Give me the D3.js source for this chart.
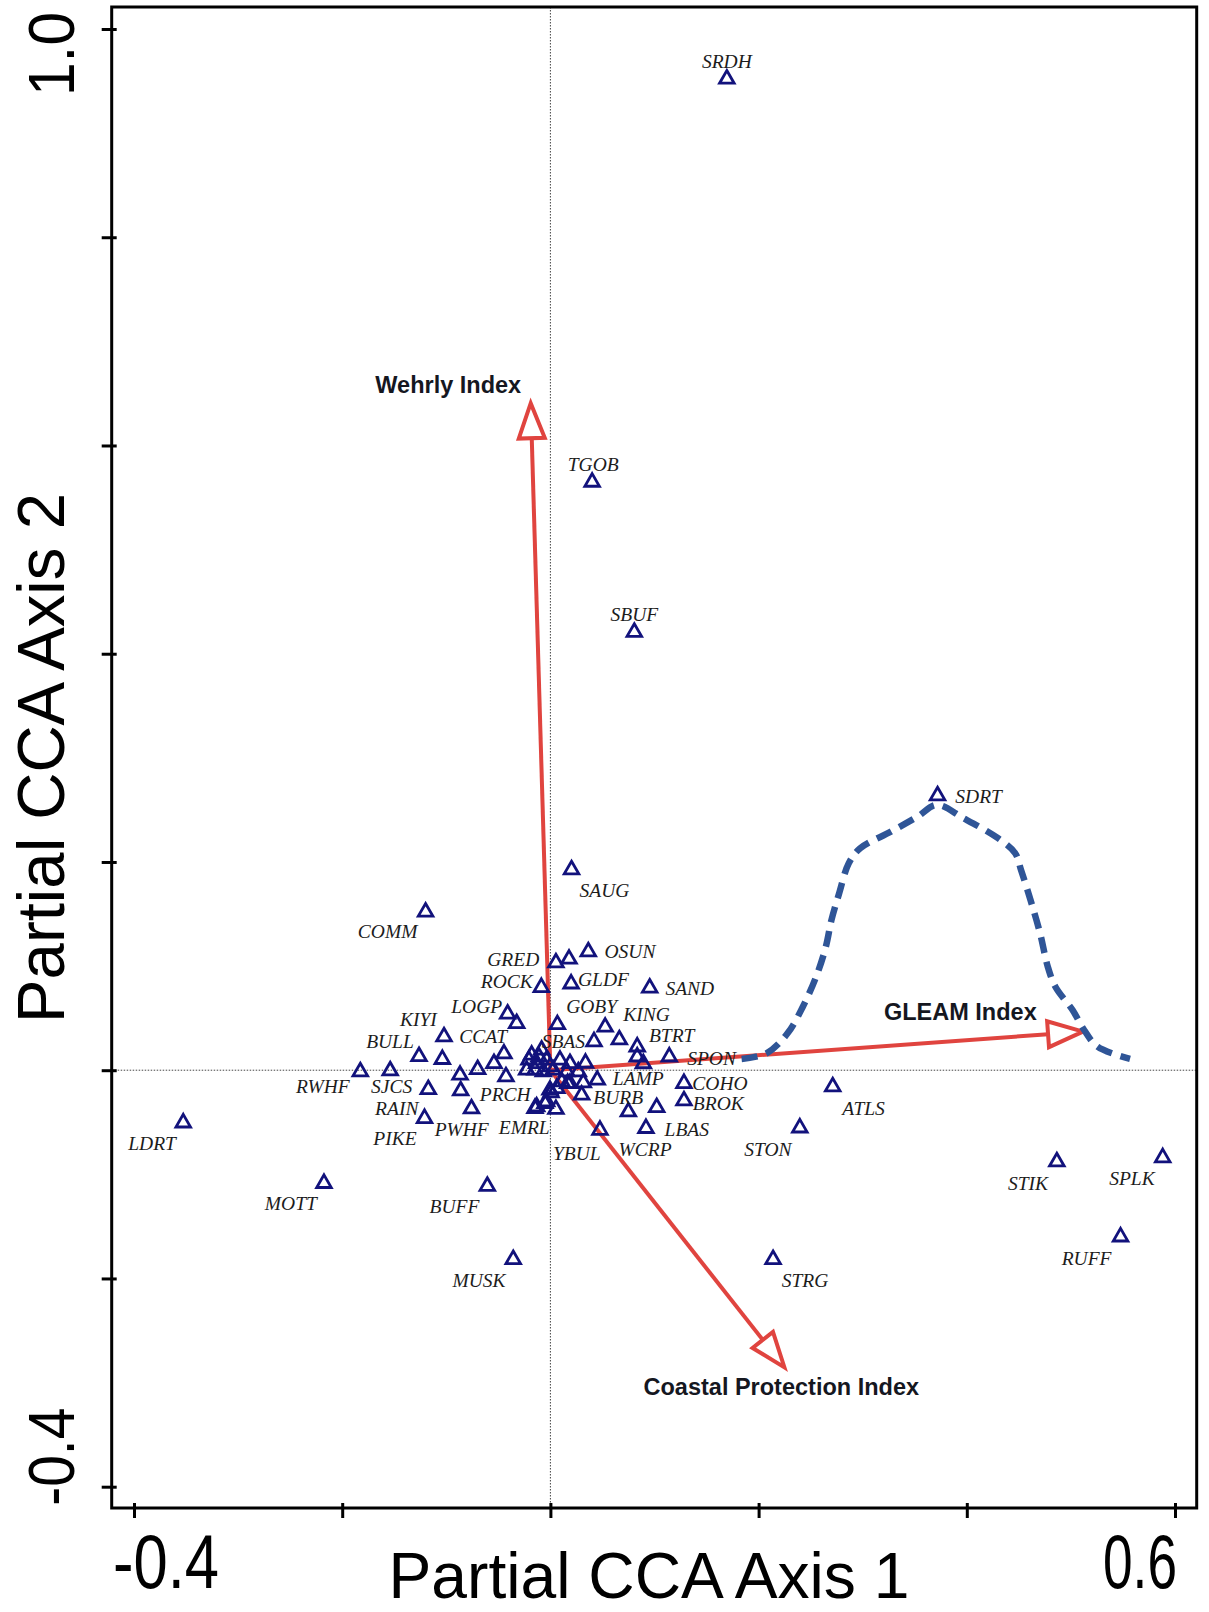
<!DOCTYPE html>
<html>
<head>
<meta charset="utf-8">
<script src="https://cdn.jsdelivr.net/npm/d3@7"></script>
<style>
  body { margin: 0; background: #fff; }
  svg { display: block; }
</style>
</head>
<body>
<div id="chart"></div>
<script>
// species scores on the two partial CCA axes, plus where each name sits
const species = ["SRDH","TGOB","SBUF","SDRT","SAUG","COMM","GRED","OSUN","ROCK","GLDF","SAND",
  "LOGP","KIYI","CCAT","BULL","GOBY","KING","SBAS","BTRT","SPON","RWHF","SJCS","RAIN","PIKE",
  "PWHF","PRCH","EMRL","LAMP","COHO","BROK","BURB","LBAS","YBUL","WCRP","ATLS","STON","STRG",
  "STIK","SPLK","RUFF","LDRT","MOTT","BUFF","MUSK"];
const axis1 = [0.1695,0.0401,0.0806,0.3719,0.0203,-0.1199,0.0053,0.0364,-0.0087,0.0199,0.0954,
  -0.0411,-0.1022,-0.0446,-0.1262,0.0526,0.0662,0.0067,0.0834,0.1142,-0.1826,-0.1539,-0.1173,-0.1209,
  -0.0758,-0.0427,-0.0132,0.045,0.1283,0.1283,0.03,0.0918,0.0476,0.0749,0.2712,0.2396,0.2139,
  0.4865,0.5882,0.5477,-0.3527,-0.2175,-0.0606,-0.0357];
const axis2 = [0.952,0.5649,0.4207,0.2637,0.1926,0.1521,0.1033,0.1139,0.0796,0.083,0.079,
  0.054,0.0322,0.0158,0.0133,0.0415,0.0293,0.0439,0.0225,0.0129,-0.0014,-0.0005,-0.0184,-0.0462,
  -0.037,-0.0062,-0.0351,-0.0094,-0.0126,-0.0292,-0.0238,-0.0558,-0.0575,-0.0399,-0.0158,-0.0553,-0.1817,
  -0.0879,-0.0839,-0.16,-0.0505,-0.1086,-0.1113,-0.1817];
const labelAxis1 = [0.1695,0.0411,0.0806,0.4114,0.0519,-0.1564,-0.0357,0.0764,-0.0419,0.051,0.1339,
  -0.0708,-0.1268,-0.0646,-0.1541,0.0396,0.0924,0.0124,0.1165,0.1548,-0.2186,-0.1525,-0.1476,-0.1493,
  -0.0852,-0.0434,-0.0251,0.0844,0.1629,0.1613,0.0652,0.131,0.0253,0.0909,0.3008,0.209,0.2445,
  0.4588,0.5586,0.5151,-0.3826,-0.2493,-0.0922,-0.0685];
const labelAxis2 = [0.9688,0.5817,0.4375,0.2627,0.1728,0.1333,0.1067,0.1136,0.0849,0.0869,0.078,
  0.0612,0.0484,0.0326,0.0277,0.0612,0.0533,0.0277,0.0329,0.0115,-0.0158,-0.0158,-0.0365,-0.0654,
  -0.0573,-0.0237,-0.0553,-0.0084,-0.0126,-0.0325,-0.0265,-0.0568,-0.0798,-0.0766,-0.0365,-0.076,-0.2025,
  -0.1086,-0.1037,-0.1807,-0.0701,-0.1284,-0.1313,-0.2025];

// species too crowded near the origin to carry a name
const otherAxis1 = [0.0179,-0.0324,0.0419,0.0834,0.0893,-0.1038,-0.0542,-0.0699,-0.0868,-0.0862,
  0.0337,0.1021,0.0166,0.0316,0.0006,-0.0148,0.0053,-0.0036,
  -0.018,-0.0084,-0.0132,-0.0036,-0.0004,0.0092,-0.0228,-0.0148,-0.0068,0.0028,
  0.0188,0.0157,0.0268,0.0109,0.0188,0.0061,-0.0004,-0.0052,-0.0206,-0.011];
const otherAxis2 = [0.1068,0.045,0.0275,0.0129,0.0064,0.0105,0.0066,0.0008,-0.0046,-0.0197,
  0.0069,-0.0357,-0.0126,-0.0119,-0.0216,-0.0366,-0.0375,-0.0302,
  0.0146,0.0194,0.0066,0.0098,0.0034,0.0098,0.0002,0.0002,-0.0014,0.0002,
  0.0066,-0.0014,-0.0014,-0.011,-0.0126,-0.0174,-0.019,-0.0318,0.0098,0.0127];

// environmental vectors
const envNames = ["Wehrly Index", "GLEAM Index", "Coastal Protection Index"];
const envAxis1 = [-0.0189, 0.5116, 0.2248];
const envAxis2 = [0.6406, 0.037, -0.2854];
const envLabelAxis1 = [-0.0981, 0.3938, 0.2218];
const envLabelAxis2 = [0.6582, 0.0559, -0.3034];

// dashed outline drawn over the GLEAM end
const outlineAxis1 = [0.1837,0.2076,0.2278,0.2425,0.2553,0.2646,0.27,0.2774,0.2866,0.2976,0.3271,
  0.3527,0.3712,0.3969,0.43,0.4465,0.4521,0.4612,0.4704,0.4778,0.4851,0.5016,0.5127,0.5256,0.5568];
const outlineAxis2 = [0.0108,0.0162,0.0354,0.061,0.0898,0.1186,0.1443,0.1699,0.1988,0.2132,0.2291,
  0.2435,0.2548,0.242,0.2228,0.2084,0.1923,0.1635,0.1315,0.0994,0.0802,0.0578,0.0386,0.0226,0.0108];

const xTicks = [-0.4, -0.2, 0, 0.2, 0.4, 0.6];
const yTicks = [-0.4, -0.2, 0, 0.2, 0.4, 0.6, 0.8, 1.0];
// only the end ticks carry a label
const xTickLabels = ["-0.4", "0.6"];
const yTickLabels = ["1.0", "-0.4"];

const width = 1209, height = 1612;
const box = {left: 111.7, right: 1196.7, top: 7, bottom: 1508};

const x = d3.scaleLinear().domain([-0.4, 0.6]).range([134, 1175]);
const y = d3.scaleLinear().domain([-0.4, 1.0]).range([1486.7, 29]);

const svg = d3.select("#chart")
  .append("svg")
    .attr("width", width)
    .attr("height", height);

const sans = "'Liberation Sans', Arial, sans-serif";
const serif = "'Liberation Serif', 'Times New Roman', serif";
const red = "#e0443f";
const navy = "#12127c";

// dotted zero lines
svg.append("line")
  .attr("x1", x(0)).attr("x2", x(0))
  .attr("y1", box.top).attr("y2", box.bottom)
  .attr("stroke", "#444").attr("stroke-width", 1)
  .attr("stroke-dasharray", "1.5,1.5");
svg.append("line")
  .attr("x1", box.left).attr("x2", box.right)
  .attr("y1", y(0)).attr("y2", y(0))
  .attr("stroke", "#444").attr("stroke-width", 1)
  .attr("stroke-dasharray", "1.5,1.5");

// frame
svg.append("rect")
  .attr("x", box.left).attr("y", box.top)
  .attr("width", box.right - box.left)
  .attr("height", box.bottom - box.top)
  .attr("fill", "none")
  .attr("stroke", "#000")
  .attr("stroke-width", 3);

// ticks, crossing the frame a little
svg.append("g")
  .attr("transform", `translate(0,${box.bottom})`)
  .call(d3.axisBottom(x).tickValues(xTicks).tickSize(10).tickFormat(""))
  .call(g => g.select(".domain").remove())
  .call(g => g.selectAll(".tick line").attr("y1", -5).attr("stroke-width", 3));

svg.append("g")
  .attr("transform", `translate(${box.left},0)`)
  .call(d3.axisLeft(y).tickValues(yTicks).tickSize(10).tickFormat(""))
  .call(g => g.select(".domain").remove())
  .call(g => g.selectAll(".tick line").attr("x1", 5).attr("stroke-width", 3));

// tick labels
svg.selectAll(".xlab")
  .data(xTickLabels)
  .join("text")
    .attr("class", "xlab")
    .attr("x", (d, i) => i === 0 ? x(+d) - 21 : x(+d) + 2)
    .attr("y", 1588)
    .attr("text-anchor", (d, i) => i === 0 ? "start" : "end")
    .attr("font-family", sans)
    .attr("font-size", 76)
    .attr("textLength", (d, i) => i === 0 ? 106 : 74)
    .attr("lengthAdjust", "spacingAndGlyphs")
    .text(d => d);

svg.selectAll(".ylab")
  .data(yTickLabels)
  .join("text")
    .attr("class", "ylab")
    .attr("transform", (d, i) => `translate(74,${i === 0 ? y(+d) - 17 : y(+d) + 19}) rotate(-90)`)
    .attr("text-anchor", (d, i) => i === 0 ? "end" : "start")
    .attr("font-family", sans)
    .attr("font-size", 64)
    .attr("textLength", (d, i) => i === 0 ? 84 : 98)
    .attr("lengthAdjust", "spacingAndGlyphs")
    .text(d => d);

// axis titles
svg.append("text")
  .attr("x", 649).attr("y", 1598)
  .attr("text-anchor", "middle")
  .attr("font-family", sans)
  .attr("font-size", 64)
  .attr("textLength", 521)
  .attr("lengthAdjust", "spacingAndGlyphs")
  .text("Partial CCA Axis 1");

svg.append("text")
  .attr("transform", "translate(64,758) rotate(-90)")
  .attr("text-anchor", "middle")
  .attr("font-family", sans)
  .attr("font-size", 66)
  .attr("textLength", 530)
  .attr("lengthAdjust", "spacingAndGlyphs")
  .text("Partial CCA Axis 2");

// environmental arrows
const headLen = 35, headHalf = 13;
const arrows = svg.append("g").attr("class", "arrows");
envNames.forEach(function(name, i) {
  const x0 = x(0), y0 = y(0);
  const x1 = x(envAxis1[i]), y1 = y(envAxis2[i]);
  const len = Math.hypot(x1 - x0, y1 - y0);
  const ux = (x1 - x0) / len, uy = (y1 - y0) / len;
  const bx = x1 - ux * headLen, by = y1 - uy * headLen;
  arrows.append("line")
    .attr("x1", x0).attr("y1", y0)
    .attr("x2", bx).attr("y2", by)
    .attr("stroke", red).attr("stroke-width", 4);
  arrows.append("path")
    .attr("d", `M${x1},${y1}L${bx - uy * headHalf},${by + ux * headHalf}L${bx + uy * headHalf},${by - ux * headHalf}Z`)
    .attr("fill", "#fff")
    .attr("stroke", red)
    .attr("stroke-width", 4)
    .attr("stroke-linejoin", "miter");
});

// dashed outline
const outline = outlineAxis1.map((d, i) => [d, outlineAxis2[i]]);
svg.append("path")
  .datum(outline)
  .attr("d", d3.line()
    .curve(d3.curveCatmullRom)
    .x(d => x(d[0]))
    .y(d => y(d[1])))
  .attr("fill", "none")
  .attr("stroke", "#2f5597")
  .attr("stroke-width", 6.5)
  .attr("stroke-dasharray", "16,9");

// species triangles
const tri = d3.symbol(d3.symbolTriangle, 92);
const pts = axis1.map((d, i) => [d, axis2[i]])
  .concat(otherAxis1.map((d, i) => [d, otherAxis2[i]]));
svg.append("g")
  .selectAll("path")
  .data(pts)
  .join("path")
    .attr("d", tri)
    .attr("transform", d => `translate(${x(d[0])},${y(d[1])})`)
    .attr("fill", "none")
    .attr("stroke", navy)
    .attr("stroke-width", 2.8);

// species names
svg.append("g")
  .selectAll("text")
  .data(species)
  .join("text")
    .attr("x", (d, i) => x(labelAxis1[i]))
    .attr("y", (d, i) => y(labelAxis2[i]))
    .attr("dy", "0.33em")
    .attr("text-anchor", "middle")
    .attr("font-family", serif)
    .attr("font-style", "italic")
    .attr("font-size", 19.5)
    .attr("fill", "#1c1c1c")
    .text(d => d);

// vector names
svg.append("g")
  .selectAll("text")
  .data(envNames)
  .join("text")
    .attr("x", (d, i) => x(envLabelAxis1[i]))
    .attr("y", (d, i) => y(envLabelAxis2[i]))
    .attr("dy", "0.36em")
    .attr("text-anchor", "middle")
    .attr("font-family", sans)
    .attr("font-weight", "bold")
    .attr("font-size", 23.5)
    .attr("fill", "#15171f")
    .text(d => d);
</script>
</body>
</html>
